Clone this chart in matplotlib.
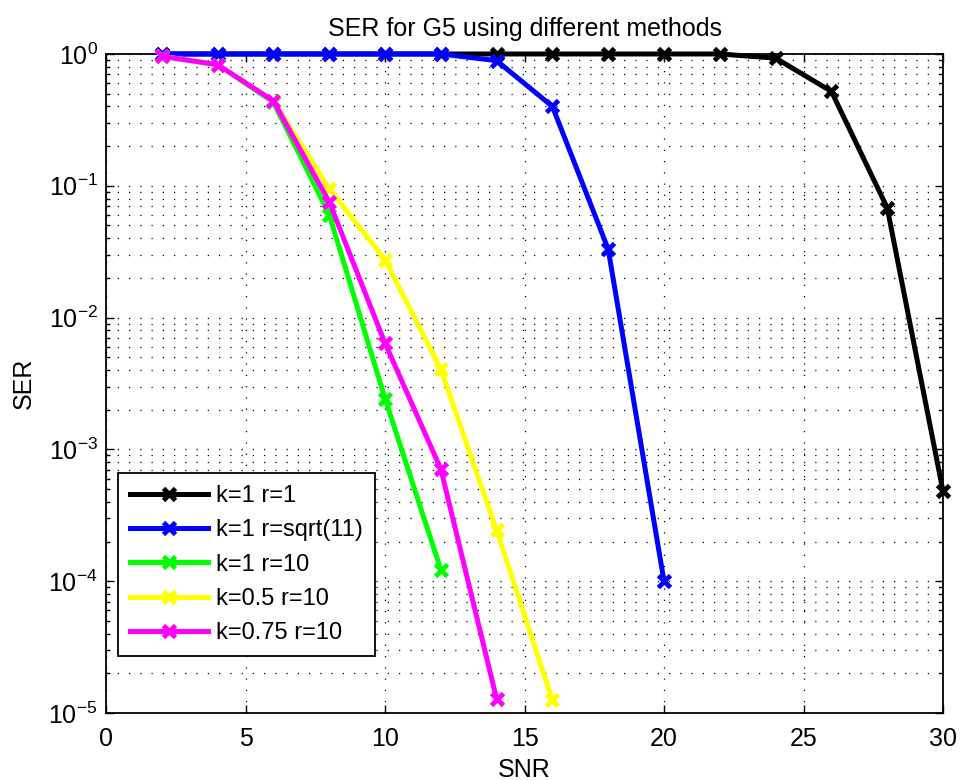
import matplotlib
matplotlib.use('Agg')
import matplotlib.pyplot as plt
from matplotlib.ticker import LogLocator, MultipleLocator, NullFormatter

plt.rcParams['font.family'] = ['Liberation Sans', 'DejaVu Sans']
plt.rcParams['mathtext.fontset'] = 'custom'
plt.rcParams['mathtext.rm'] = 'Liberation Sans'

# SER curves
snr_a = [2, 4, 6, 8, 10, 12, 14, 16, 18, 20, 22, 24, 26, 28, 30]
ser_a = [1, 1, 1, 1, 1, 1, 1, 1, 1, 1, 1, 0.93, 0.52, 0.068, 4.8e-4]

snr_b = [2, 4, 6, 8, 10, 12, 14, 16, 18, 20]
ser_b = [1, 1, 1, 1, 1, 1, 0.89, 0.40, 0.033, 1.0e-4]

snr_c = [2, 4, 6, 8, 10, 12]
ser_c = [0.96, 0.83, 0.43, 0.0605, 2.43e-3, 1.22e-4]

snr_d = [2, 4, 6, 8, 10, 12, 14, 16]
ser_d = [0.96, 0.83, 0.44, 0.095, 0.0275, 4.06e-3, 2.43e-4, 1.25e-5]

snr_e = [2, 4, 6, 8, 10, 12, 14]
ser_e = [0.96, 0.83, 0.44, 0.0755, 6.4e-3, 7.1e-4, 1.28e-5]

labels = ['k=1 r=1', 'k=1 r=sqrt(11)', 'k=1 r=10', 'k=0.5 r=10', 'k=0.75 r=10']
colors = ['#000000', '#0000ff', '#00ff00', '#ffff00', '#ff00ff']

fig = plt.figure(figsize=(9.61, 7.80), dpi=100)
ax = fig.add_axes([0.1103, 0.0859, 0.8710, 0.8449])

series = [(snr_a, ser_a), (snr_b, ser_b), (snr_c, ser_c), (snr_d, ser_d), (snr_e, ser_e)]
for (x, y), lab, c in zip(series, labels, colors):
    ax.semilogy(x, y, color=c, lw=3.6, marker='x', ms=8, mew=3.5,
                label=lab, clip_on=False, zorder=3)

ax.set_xlim(0, 30)
ax.set_ylim(1e-5, 1)
ax.xaxis.set_major_locator(MultipleLocator(5))
ax.yaxis.set_major_locator(LogLocator(base=10, numticks=10))
ax.yaxis.set_minor_locator(LogLocator(base=10, subs=range(2, 10), numticks=10))
ax.yaxis.set_minor_formatter(NullFormatter())

# matlab style dotted grid
dots = (0, (1, 8))
ax.grid(True, which='major', axis='both', color='k', lw=0.9, ls=dots)
ax.grid(True, which='minor', axis='y', color='k', lw=0.9, ls=dots)

ax.tick_params(which='both', direction='in', top=True, right=True, labelsize=18, width=1.0)
ax.tick_params(which='major', length=6)
ax.tick_params(which='minor', length=3)
ax.tick_params(axis='x', pad=10)
ax.tick_params(axis='y', pad=6)
for s in ax.spines.values():
    s.set_linewidth(1.3)

ax.set_title('SER for G5 using different methods', fontsize=18, pad=13)
ax.set_xlabel('SNR', fontsize=18, labelpad=5)
ax.set_ylabel('SER', fontsize=18, labelpad=9)

leg = ax.legend(loc='lower left', bbox_to_anchor=(0.0143, 0.0865), borderaxespad=0,
                fontsize=17, numpoints=1, handlelength=3.3, handletextpad=0.35,
                labelspacing=0.52, borderpad=0.5, fancybox=False, edgecolor='k',
                framealpha=1)
leg.get_frame().set_linewidth(1.3)

fig.savefig('out.png', dpi=100)
